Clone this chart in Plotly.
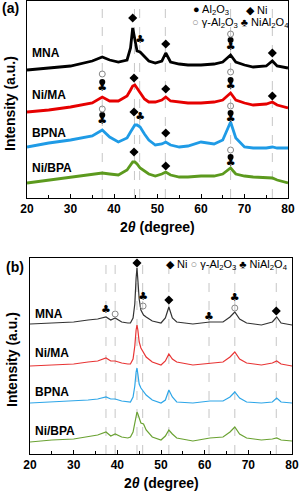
import plotly.graph_objects as go

# ---------------- data ----------------
samples = ["MNA", "Ni/MA", "BPNA", "Ni/BPA"]

# panel (a): as-prepared patterns (offset intensities, a.u.)
xa = [20, 25, 30, 35, 37.3, 39, 41, 43, 43.8, 44.3, 44.8, 45.3, 46, 47, 48, 49.5,
      51, 51.9, 53, 55, 57, 60, 63, 65, 66.8, 68, 70, 72, 75, 76.4, 77.5, 80]
a_mna = [128, 130, 132, 137, 141, 138, 136, 138, 150, 170, 158, 147, 146, 142, 137, 135,
         137, 145, 136, 134, 133, 133, 134, 136, 143, 136, 133, 131, 132, 137, 132, 130]
a_nima = [86, 88, 91, 95, 101, 97, 97, 102, 108, 112, 113, 110, 105, 99, 96, 96,
          98, 101, 97, 96, 95, 95, 96, 98, 105, 98, 95, 93, 94, 96, 93, 90]
a_bpna = [51, 55, 58, 62, 68, 61, 56, 60, 66, 70, 73, 73, 71, 64, 58, 53,
          54, 56, 53, 51, 52, 56, 54, 58, 76, 60, 51, 50, 50, 51, 50, 50]
a_nibpa = [15, 18, 21, 24, 25, 24, 23, 28, 33, 36, 36, 34, 30, 27, 24, 22,
           24, 26, 23, 21, 21, 22, 22, 24, 30, 24, 22, 21, 20, 20, 18, 15]

# panel (b): reduced patterns
xb = [20, 25, 30, 33.3, 35.5, 37.4, 38.5, 39.5, 41, 42.4, 43.0, 43.6, 44.0, 44.3, 44.5,
      44.7, 45.0, 45.4, 46.0, 46.6, 48, 50, 51.0, 51.8, 52.6, 53.6, 57.3, 61.2, 64.2,
      65.8, 66.9, 68, 69.6, 73, 75.5, 76.5, 77.5, 80]
b_mna = [130, 131, 132, 134, 135, 137, 134, 136, 132, 131, 131, 136, 150, 176, 186,
         174, 155, 144, 139, 137, 133, 131, 136, 147, 136, 132, 130, 132, 132,
         137, 142, 135, 131, 129, 132, 137, 131, 129]
b_nima = [88, 89, 90, 92, 93, 96, 93, 93, 91, 90, 90, 95, 108, 124, 129,
          124, 112, 106, 102, 97, 92, 89, 93, 100, 95, 92, 89, 91, 92,
          97, 102, 95, 91, 89, 91, 93, 90, 88]
b_bpna = [51, 52, 53, 54, 55, 57, 55, 55, 53, 52, 52, 57, 68, 82, 86,
          80, 70, 66, 62, 59, 54, 51, 54, 64, 57, 52, 51, 53, 53,
          57, 62, 56, 52, 51, 52, 56, 52, 51]
b_nibpa = [12, 14, 15, 17, 19, 22, 18, 20, 17, 16, 17, 22, 32, 40, 42,
           40, 35, 31, 30, 24, 17, 14, 18, 24, 20, 16, 13, 16, 17,
           22, 27, 20, 16, 14, 15, 16, 14, 13]

# reference peak lines
a_lines = [37.3, 44.7, 45.9, 51.8, 66.8, 76.4]
b_lines = [37.4, 39.5, 44.5, 45.8, 51.8, 61.0, 66.9, 76.4]

# phase markers, panel (a)
a_dia_x = [44.3, 51.9, 76.4, 44.6, 51.9, 76.4, 44.6, 51.9, 44.6, 51.9]
a_dia_y = [180, 154, 145, 120, 109, 102, 86, 65, 46, 32]
a_fill_x = [66.8, 37.3, 66.8, 37.3, 66.8, 66.8]
a_fill_y = [158, 116, 118, 83, 85, 41]
a_open_x = [66.8, 37.3, 66.8, 37.3, 66.8, 66.8]
a_open_y = [164, 124, 126, 89, 92, 48]
a_club_x = [46.0, 66.8, 37.3, 66.8, 37.3, 46.0, 66.8, 66.8]
a_club_y = [158, 151, 110, 112, 77, 81, 79, 35]

# phase markers, panel (b)
b_dia_x = [44.5, 51.8, 76.4]
b_dia_y = [191, 154, 143]
b_open_x = [39.5, 45.9, 66.9]
b_open_y = [140, 148, 146]
b_club_x = [37.4, 45.9, 61.0, 66.9]
b_club_y = [144, 157, 137, 156]

# ---------------- styling ----------------
FONT = "Arial"
a_colors = ["#000000", "#e60000", "#1f9be6", "#5c9a1e"]
b_colors = ["#333333", "#e83535", "#2ea6e8", "#6aa232"]

# pixel helpers for layout placement
L, R, T, B = 27, 8, 0, 38
W, H = 300, 492
PW, PH = W - L - R, H - T - B


def px_x(p):
    return (p - L) / PW


def px_y(p):
    return 1 - (p - T) / PH


fig = go.Figure()

for ys, c in zip([a_mna, a_nima, a_bpna, a_nibpa], a_colors):
    fig.add_trace(go.Scatter(x=xa, y=ys, mode="lines", line=dict(color=c, width=2.8),
                             xaxis="x", yaxis="y", showlegend=False, hoverinfo="skip"))
for ys, c in zip([b_mna, b_nima, b_bpna, b_nibpa], b_colors):
    fig.add_trace(go.Scatter(x=xb, y=ys, mode="lines", line=dict(color=c, width=1.2),
                             xaxis="x2", yaxis="y2", showlegend=False, hoverinfo="skip"))


def markers(xs, ys, xa_, ya_, symbol, size, color="black", line=None):
    fig.add_trace(go.Scatter(x=xs, y=ys, mode="markers", xaxis=xa_, yaxis=ya_,
                             marker=dict(symbol=symbol, size=size, color=color,
                                         line=line or dict(width=0)),
                             showlegend=False, hoverinfo="skip"))


def clubs(xs, ys, xa_, ya_):
    fig.add_trace(go.Scatter(x=xs, y=ys, mode="text", text=["♣"] * len(xs),
                             textposition="middle center",
                             textfont=dict(family="DejaVu Sans", size=11, color="black"),
                             xaxis=xa_, yaxis=ya_, showlegend=False, hoverinfo="skip"))


markers(a_dia_x, a_dia_y, "x", "y", "diamond", 7)
markers(a_fill_x, a_fill_y, "x", "y", "circle", 6)
markers(a_open_x, a_open_y, "x", "y", "circle-open", 6, color="#888888",
        line=dict(width=1, color="#888888"))
clubs(a_club_x, a_club_y, "x", "y")

markers(b_dia_x, b_dia_y, "x2", "y2", "diamond", 7)
markers(b_open_x, b_open_y, "x2", "y2", "circle-open", 6, color="#888888",
        line=dict(width=1, color="#888888"))
clubs(b_club_x, b_club_y, "x2", "y2")

shapes = []
for v in a_lines:
    shapes.append(dict(type="line", xref="x", yref="y domain", x0=v, x1=v, y0=0, y1=1,
                       line=dict(color="#b8b8b8", width=0.8, dash="dash"), layer="below"))
for v in b_lines:
    shapes.append(dict(type="line", xref="x2", yref="y2 domain", x0=v, x1=v, y0=0, y1=1,
                       line=dict(color="#b8b8b8", width=0.8, dash="dash"), layer="below"))

ann = []
bold = dict(family=FONT, size=12, color="black", weight="bold")
a_label_y = [145, 103, 65, 30]
b_label_y = [140, 101, 62, 23]
for name, y in zip(samples, a_label_y):
    ann.append(dict(x=20.6, y=y, xref="x", yref="y", text=name, showarrow=False,
                    xanchor="left", yanchor="middle", font=bold))
for name, y in zip(samples, b_label_y):
    ann.append(dict(x=20.7, y=y, xref="x2", yref="y2", text=name, showarrow=False,
                    xanchor="left", yanchor="middle", font=bold))

# panel letters
ann.append(dict(x=px_x(0), y=px_y(8), xref="paper", yref="paper", text="(a)",
                showarrow=False, xanchor="left", yanchor="middle",
                font=dict(family=FONT, size=14, color="black", weight="bold")))
ann.append(dict(x=px_x(4), y=px_y(267), xref="paper", yref="paper", text="(b)",
                showarrow=False, xanchor="left", yanchor="middle",
                font=dict(family=FONT, size=14, color="black", weight="bold")))

# axis titles
xt = "2<i>θ</i> (degree)"
ann.append(dict(x=px_x(157.5), y=px_y(227), xref="paper", yref="paper", text=xt,
                showarrow=False, xanchor="center", yanchor="middle",
                font=dict(family=FONT, size=14, color="black", weight="bold")))
ann.append(dict(x=px_x(161), y=px_y(483), xref="paper", yref="paper", text=xt,
                showarrow=False, xanchor="center", yanchor="middle",
                font=dict(family=FONT, size=14, color="black", weight="bold")))
for xp, yp in [(10, 104), (12, 360)]:
    ann.append(dict(x=px_x(xp), y=px_y(yp), xref="paper", yref="paper",
                    text="Intensity (a.u.)", textangle=-90, showarrow=False,
                    xanchor="center", yanchor="middle",
                    font=dict(family=FONT, size=14, color="black", weight="bold")))

# legends
lf = dict(family=FONT, size=11, color="black")
al2o3 = "Al<sub>2</sub>O<sub>3</sub>"
ann.append(dict(x=px_x(191), y=px_y(10), xref="paper", yref="paper",
                text="● " + al2o3, showarrow=False, xanchor="left", yanchor="middle", font=lf))
ann.append(dict(x=px_x(244), y=px_y(10), xref="paper", yref="paper",
                text="◆ Ni", showarrow=False, xanchor="left", yanchor="middle", font=lf))
ann.append(dict(x=px_x(190), y=px_y(23), xref="paper", yref="paper",
                text="<span style='color:#888888'>○</span> γ-" + al2o3 + " ♣ NiAl<sub>2</sub>O<sub>4</sub>",
                showarrow=False, xanchor="left", yanchor="middle", font=lf))
ann.append(dict(x=px_x(290), y=px_y(265), xref="paper", yref="paper",
                text="◆ Ni <span style='color:#888888'>○</span> γ-" + al2o3 + " ♣ NiAl<sub>2</sub>O<sub>4</sub>",
                showarrow=False, xanchor="right", yanchor="middle", font=lf))

xcommon = dict(range=[20, 80], dtick=10, tick0=20, ticks="inside", ticklen=4,
               tickcolor="black", showline=True, linecolor="black", linewidth=1,
               mirror=True, showgrid=False, zeroline=False,
               tickfont=dict(family=FONT, size=12, color="black", weight="bold"),
               minor=dict(dtick=5, ticks="inside", ticklen=3, tickcolor="black",
                          showgrid=False))
ycommon = dict(showticklabels=False, ticks="", showline=True, linecolor="black",
               linewidth=1, mirror=True, showgrid=False, zeroline=False)

fig.update_layout(
    width=W, height=H,
    margin=dict(l=L, r=R, t=T, b=B, autoexpand=False),
    paper_bgcolor="white", plot_bgcolor="white",
    xaxis=dict(domain=[0, 261 / PW], anchor="y", **xcommon),
    yaxis=dict(domain=[px_y(198), px_y(1)], range=[0, 197], anchor="x", **ycommon),
    xaxis2=dict(domain=[3 / PW, 1], anchor="y2", **xcommon),
    yaxis2=dict(domain=[0, px_y(258)], range=[0, 196], anchor="x2", **ycommon),
    shapes=shapes, annotations=ann,
)

fig.write_html("out.html", config={"displayModeBar": False},
               post_script="document.body.style.margin='0';document.body.style.padding='0';")
